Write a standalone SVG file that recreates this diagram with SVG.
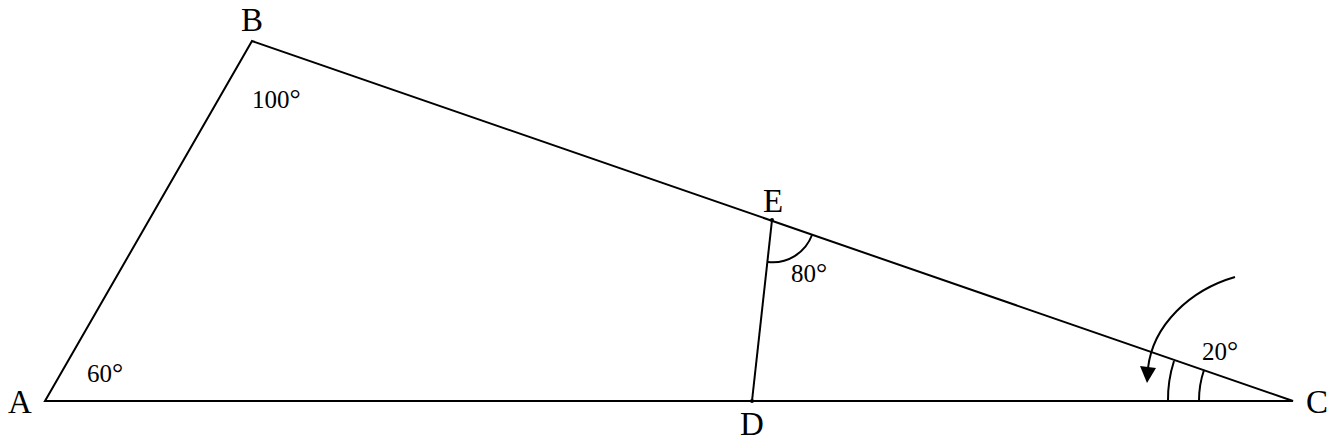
<svg xmlns="http://www.w3.org/2000/svg" width="1337" height="444" viewBox="0 0 1337 444">
<style>
.ln{fill:none;stroke:#000;stroke-width:2;stroke-linejoin:miter}
.arc{fill:none;stroke:#000;stroke-width:2}
.pt{font-family:"Liberation Serif","DejaVu Serif",serif;font-size:33px;fill:#000;text-anchor:middle}
.ang{font-family:"Liberation Serif","DejaVu Serif",serif;font-size:25px;fill:#000}
.deg{font-size:28px}
.dot{fill:#000}
</style>
<g id="connectors">
<path class="ln" d="M45,401 L252,41 L1293,401 Z"/>
<path class="ln" d="M772,220 L752,401"/>
<path class="arc" d="M768,262 A42,42 0 0 0 812,235"/>
<path class="arc" d="M1199,401 A94,94 0 0 1 1204,370"/>
<path class="arc" d="M1168,401 A125,125 0 0 1 1174,361"/>
<path class="arc" d="M1235,277 C1190,290 1153,325 1148,368"/>
<polygon points="1140,366 1156,368 1147,383" fill="#000"/>
</g>
<g id="node-A"><text class="pt" x="20" y="413">A</text><text class="ang" x="87" y="382">60<tspan class="deg">°</tspan></text></g>
<g id="node-B"><text class="pt" x="252" y="31">B</text><text class="ang" x="252" y="108">100<tspan class="deg">°</tspan></text></g>
<g id="node-C"><text class="pt" x="1317" y="413">C</text><text class="ang" x="1202" y="360">20<tspan class="deg">°</tspan></text></g>
<g id="node-D"><circle class="dot" cx="752" cy="401" r="2"/><text class="pt" x="752" y="435">D</text></g>
<g id="node-E"><circle class="dot" cx="772" cy="220" r="2"/><text class="pt" x="773" y="212">E</text><text class="ang" x="791" y="282">80<tspan class="deg">°</tspan></text></g>
</svg>
